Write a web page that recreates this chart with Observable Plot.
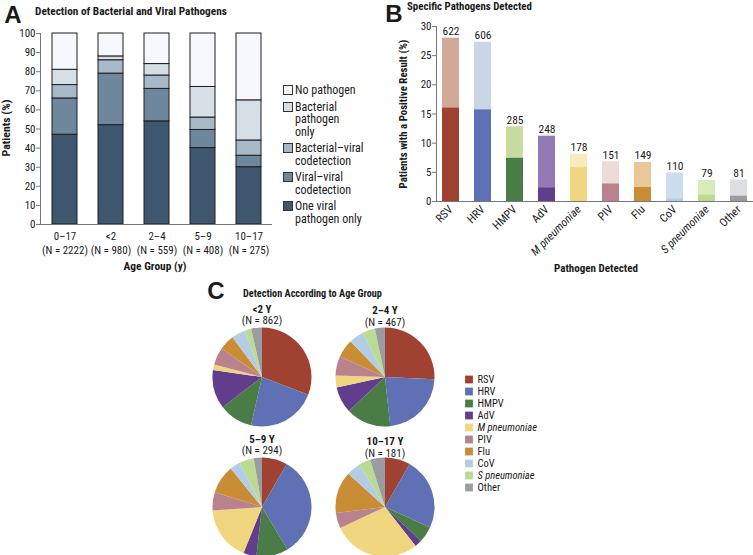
<!DOCTYPE html>
<html><head><meta charset="utf-8">
<script src="https://cdn.jsdelivr.net/npm/d3@7"></script>
<script src="https://cdn.jsdelivr.net/npm/@observablehq/plot@0.6"></script>
<style>
body{margin:0;background:#fff;}
#wrap{position:relative;width:753px;height:555px;overflow:hidden;font-family:"Roboto Condensed",Roboto,sans-serif;color:#1a1a1a;}
.t{position:absolute;white-space:nowrap;line-height:1;}
.sq{position:absolute;box-sizing:border-box;}
</style></head><body><div id="wrap"></div><script>
// ---------- Panel A data ----------
const ageGroupsA = ["0–17", "<2", "2–4", "5–9", "10–17"];
const ageNsA = [2222, 980, 559, 408, 275];
const detectionCategories = ["One viral pathogen only", "Viral–viral codetection", "Bacterial–viral codetection", "Bacterial pathogen only", "No pathogen"];
const oneViral       = [47, 52, 54, 40, 30];
const viralViral     = [19, 27, 17, 9.5, 6];
const bacterialViral = [7, 7, 7, 6.5, 8];
const bacterialOnly  = [8, 2, 6, 16, 21];
const noPathogen     = [19, 12, 16, 28, 35];
const legendLinesA = [["No pathogen"], ["Bacterial", "pathogen", "only"], ["Bacterial–viral", "codetection"], ["Viral–viral", "codetection"], ["One viral", "pathogen only"]];
const colorsA = ["#3e566e", "#6f879d", "#a7b8c8", "#d6dee6", "#f6f8fb"];

// ---------- Panel B data ----------
const pathogens = ["RSV", "HRV", "HMPV", "AdV", "M pneumoniae", "PIV", "Flu", "CoV", "S pneumoniae", "Other"];
const positivePct      = [28, 27.3, 12.8, 11.2, 8.1, 6.8, 6.7, 4.9, 3.6, 3.7];
const soleDetectionPct = [16, 15.7, 7.4, 2.3, 5.8, 3.0, 2.4, 0.4, 1.1, 0.9];
const positiveCounts   = [622, 606, 285, 248, 178, 151, 149, 110, 79, 81];
const darkColors  = ["#9f4232", "#5f71b4", "#4a7d46", "#623d8d", "#f1d680", "#b8838f", "#c98d35", "#b3cde5", "#bcdb92", "#9a9ca2"];
const lightColors = ["#d0a999", "#cad6e5", "#c8dc9e", "#9479b5", "#f8ebbd", "#ecdbd6", "#e9c796", "#cbddef", "#d8ebbb", "#dddee1"];

// ---------- Panel C data (percent of detections, clockwise from top) ----------
const pieGroups = ["<2 Y", "2–4 Y", "5–9 Y", "10–17 Y"];
const pieNs = [862, 467, 294, 181];
const pieUnder2 = [30.8, 22.7, 11.0, 12.7, 1.8, 5.7, 5.0, 4.5, 2.2, 3.5];
const pie2to4   = [25.7, 22.6, 14.7, 8.6, 3.9, 6.3, 5.9, 4.9, 4.1, 3.3];
const pie5to9   = [8.3, 33.2, 10.4, 4.3, 17.8, 6.0, 9.3, 3.4, 4.8, 2.7];
const pie10to17 = [8.3, 23.5, 5.3, 2.3, 28.6, 5.1, 13.6, 4.7, 3.7, 4.9];

// ---------- helpers ----------
const W = 753, H = 555;
const FONT = '"Roboto Condensed", Roboto, sans-serif';
const wrap = document.getElementById("wrap");
const baseStyle = {background: "transparent", fontFamily: FONT, fontSize: "11px", color: "#1a1a1a", overflow: "visible"};
function addPlot(p) {
  p.style.position = "absolute"; p.style.left = "0"; p.style.top = "0";
  wrap.appendChild(p); return p;
}
function txt(s, x, y, {size = 11, weight = 400, anchor = "middle", rotate = 0, italic = false, family = null, fit = null} = {}) {
  const d = document.createElement("div");
  d.className = "t";
  d.textContent = s;
  const tx = anchor === "start" ? "0" : anchor === "end" ? "-100%" : "-50%";
  d.style.left = x + "px"; d.style.top = y + "px";
  d.style.fontSize = size + "px"; d.style.fontWeight = weight;
  if (italic) d.style.fontStyle = "italic";
  if (family) d.style.fontFamily = family;
  d.style.transform = `translate(${tx},-50%) rotate(${rotate}deg)`;
  wrap.appendChild(d);
  if (fit) { const w = d.getBoundingClientRect(); const len = rotate ? w.height : w.width; if (len > 0) d.style.fontSize = (size * fit / len) + "px"; }
  return d;
}
const LETTER_FONT = '"Liberation Sans", Arial, sans-serif';

// ---------- Panel A ----------
const seriesA = [oneViral, viralViral, bacterialViral, bacterialOnly, noPathogen];
const rowsA = ageGroupsA.flatMap((age, i) => detectionCategories.map((cat, j) => ({age, cat, value: seriesA[j][i]})));
const nMapA = new Map(ageGroupsA.map((a, i) => [a, ageNsA[i]]));
addPlot(Plot.plot({
  width: W, height: H,
  marginLeft: 40, marginRight: W - 272, marginTop: 33, marginBottom: H - 224,
  style: baseStyle,
  x: {type: "band", domain: ageGroupsA, paddingInner: 0.46, paddingOuter: 0.25, label: null},
  y: {domain: [0, 100], label: null},
  color: {domain: detectionCategories, range: colorsA},
  marks: [
    Plot.barY(rowsA, {x: "age", y: "value", fill: "cat", stroke: "#1e1e1e", strokeWidth: 1}),
    Plot.axisY({ticks: d3.range(0, 101, 10), tickSize: 4, tickPadding: 1, stroke: "#777", label: null}),
    Plot.axisX({tickSize: 0, tickPadding: 6, lineHeight: 1.25, tickFormat: d => `${d}\n(N = ${nMapA.get(d)})`, label: null}),
    Plot.ruleY([0], {stroke: "#777"}),
    Plot.frame({anchor: "left", stroke: "#777"})
  ]
}));
txt("A", 13, 15, {size: 24, weight: 700, family: LETTER_FONT});
txt("Detection of Bacterial and Viral Pathogens", 35, 12, {size: 11, weight: 700, anchor: "start", fit: 192});
txt("Age Group (y)", 155, 267, {size: 12, weight: 700, fit: 63});
txt("Patients (%)", 7, 128, {size: 12, weight: 700, rotate: -90, fit: 57});
// legend A (top to bottom: reverse of stack order)
{
  let y = 90;
  legendLinesA.forEach((lines, k) => {
    const cat = detectionCategories[detectionCategories.length - 1 - k];
    const sq = document.createElement("div");
    sq.className = "sq";
    sq.style.cssText = `left:283px;top:${y - 5}px;width:10px;height:10px;border:1px solid #333;background:${colorsA[detectionCategories.indexOf(cat)]}`;
    wrap.appendChild(sq);
    lines.forEach((ln, li) => txt(ln, 295, y + li * 12.5, {size: 12, anchor: "start"}));
    y += (lines.length - 1) * 12.5 + 16.5;
  });
}

// ---------- Panel B ----------
const svgB = addPlot(Plot.plot({
  width: W, height: H,
  marginLeft: 436, marginRight: 0, marginTop: 26, marginBottom: H - 201,
  style: baseStyle,
  x: {type: "band", domain: pathogens, paddingInner: 0.47, paddingOuter: 0.155, label: null},
  y: {domain: [0, 30], label: null},
  color: {domain: [...pathogens.map(p => p + "|co"), ...pathogens.map(p => p + "|sole")], range: [...lightColors, ...darkColors]},
  marks: [
    Plot.barY(pathogens, {x: d => d, y1: 0, y2: (d, i) => positivePct[i], fill: d => d + "|co"}),
    Plot.barY(pathogens, {x: d => d, y1: 0, y2: (d, i) => soleDetectionPct[i], fill: d => d + "|sole"}),
    Plot.text(pathogens, {x: d => d, y: (d, i) => positivePct[i], text: (d, i) => String(positiveCounts[i]), dy: -7, fontSize: 11.5}),
    Plot.axisY({ticks: d3.range(0, 31, 5), tickSize: 4, tickPadding: 1, stroke: "#777", label: null}),
    Plot.axisX({tickRotate: -45, tickSize: 0, tickPadding: 6, fontSize: 11.5, label: null}),
    Plot.ruleY([0], {stroke: "#777"}),
    Plot.frame({anchor: "left", stroke: "#777"})
  ]
}));
svgB.querySelectorAll("text").forEach(t => { if (/pneumoniae/.test(t.textContent)) t.setAttribute("font-style", "italic"); });
txt("B", 394, 13.5, {size: 24, weight: 700, family: LETTER_FONT});
txt("Specific Pathogens Detected", 407, 6.5, {size: 11, weight: 700, anchor: "start", fit: 125});
txt("Pathogen Detected", 596, 269, {size: 12, weight: 700, fit: 84});
txt("Patients with a Positive Result (%)", 404, 114, {size: 12, weight: 700, rotate: -90, fit: 149});

// ---------- Panel C ----------
const pieValues = [pieUnder2, pie2to4, pie5to9, pie10to17];
const pieCenters = [[262, 377], [385, 377], [262, 507], [385, 507]];
const pieR = 49.5;
function pieMark(values, cx, cy, r) {
  return (index, scales) => {
    const color = scales.color ?? (p => darkColors[pathogens.indexOf(p)]);
    const arcs = d3.pie().sort(null).value(d => d)(values);
    const arc = d3.arc().innerRadius(0).outerRadius(r);
    const g = d3.create("svg:g").attr("transform", `translate(${cx},${cy})`);
    g.selectAll("path").data(arcs).join("path")
      .attr("d", arc)
      .attr("fill", (d, i) => color(pathogens[i]));
    return g.node();
  };
}
const svgC = addPlot(Plot.plot({
  width: W, height: H,
  marginLeft: 468.5, marginRight: W - 620, marginTop: 371, marginBottom: H - 493,
  style: baseStyle,
  y: {type: "point", domain: pathogens, range: [371.5, 493.5], axis: null},
  color: {domain: pathogens, range: darkColors},
  marks: [
    ...pieValues.map((v, k) => pieMark(v, pieCenters[k][0], pieCenters[k][1], pieR)),
    Plot.dot(pathogens, {y: d => d, fill: d => d, symbol: "square", r: 4.4, frameAnchor: "left"}),
    Plot.text(pathogens, {y: d => d, text: d => d, frameAnchor: "left", dx: 8.5, textAnchor: "start", fontSize: 10.5})
  ]
}));
svgC.querySelectorAll("text").forEach(t => { if (/pneumoniae/.test(t.textContent)) t.setAttribute("font-style", "italic"); });
txt("C", 216, 291, {size: 24, weight: 700, family: LETTER_FONT});
txt("Detection According to Age Group", 243, 294, {size: 11, weight: 700, anchor: "start", fit: 139});
const pieTitleY = [[308.5, 320], [310, 321.5], [438.5, 450], [441, 452.5]];
pieGroups.forEach((g, k) => {
  txt(g, pieCenters[k][0], pieTitleY[k][0], {size: 11, weight: 700});
  txt(`(N = ${pieNs[k]})`, pieCenters[k][0], pieTitleY[k][1], {size: 11});
});
</script></body></html>
